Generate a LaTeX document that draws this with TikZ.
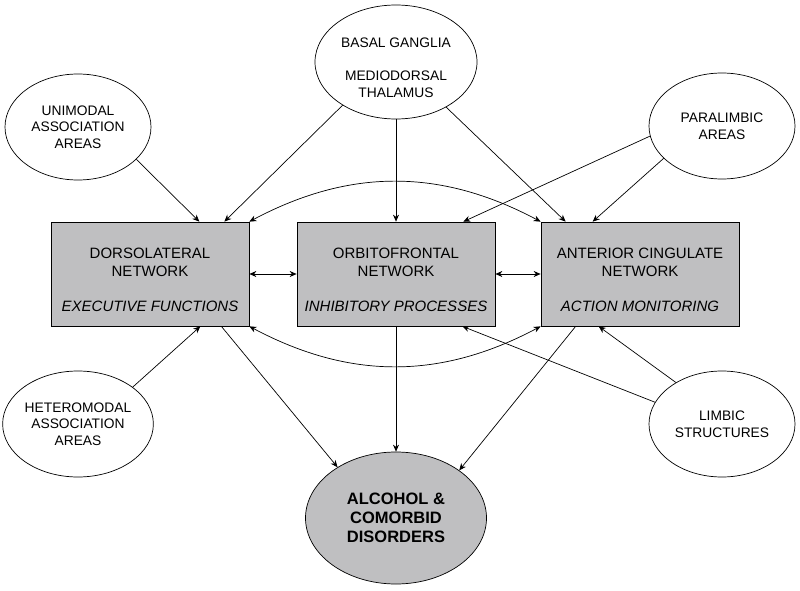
\documentclass[tikz,border=0pt]{standalone}
\usepackage{fontspec}
\setmainfont{Liberation Sans}
\usetikzlibrary{shapes.geometric,arrows.meta}
\definecolor{netgray}{RGB}{191,191,193}

\begin{document}
\begin{tikzpicture}[x=1pt,y=-1pt,line width=0.7pt,>={Stealth[length=7pt,width=6pt]}]
      \tikzstyle{network}=[draw,fill=netgray,rectangle,minimum width=198pt,minimum height=104pt,inner sep=0pt,align=center,font=\fontsize{15}{18}\selectfont]
      \tikzstyle{area}=[draw,fill=white,ellipse,inner sep=0pt,minimum width=146pt,minimum height=106pt,align=center,font=\fontsize{13.8}{16.5}\selectfont]
      \tikzstyle{outcome}=[draw,fill=netgray,ellipse,inner sep=0pt,minimum width=181pt,minimum height=132pt,align=center,font=\fontsize{16.5}{19}\selectfont\bfseries]
      \useasboundingbox (0,0) rectangle (800,591);
      \node[network] (N_DL) at (150,274) {\rule{0pt}{22pt}DORSOLATERAL\\NETWORK\\[17pt]\textit{EXECUTIVE FUNCTIONS}};
      \node[network] (N_OF) at (396,274) {\rule{0pt}{22pt}ORBITOFRONTAL\\NETWORK\\[17pt]\textit{INHIBITORY PROCESSES}};
      \node[network] (N_AC) at (640,274) {\rule{0pt}{22pt}ANTERIOR CINGULATE\\NETWORK\\[17pt]\textit{ACTION MONITORING}};
      \node[area, minimum width=162pt, minimum height=114pt] (A_BG) at (396,62) {\rule{0pt}{21pt}BASAL GANGLIA\\[17pt]MEDIODORSAL\\THALAMUS};
      \node[area] (A_UNI) at (78,127) {UNIMODAL\\ASSOCIATION\\AREAS};
      \node[area] (A_PAR) at (722,126) {PARALIMBIC\\AREAS};
      \node[area] (A_HET) at (78,424) {HETEROMODAL\\ASSOCIATION\\AREAS};
      \node[area] (A_LIM) at (722,424) {LIMBIC\\STRUCTURES};
      \node[outcome] (ALC) at (396,518) {ALCOHOL \&\\COMORBID\\DISORDERS};
      % inputs from above
      \draw[->] (A_UNI.-29) -- ([xshift=-50pt]N_DL.north east);
      \draw[->] (A_BG.219) -- ([xshift=-25pt]N_DL.north east);
      \draw[->] (A_BG) -- (N_OF);
      \draw[->] (A_BG.-42) -- ([xshift=25pt]N_AC.north west);
      \draw[->] (A_PAR.-172) -- ([xshift=-32pt]N_OF.north east);
      \draw[->] (A_PAR.-151) -- ([xshift=52pt]N_AC.north west);
      % links between the networks
      \draw[<->] (N_DL.north east) to[bend left=28] (N_AC.north west);
      \draw[<->] (N_DL.south east) to[bend right=28] (N_AC.south west);
      \draw[<->] (N_DL) -- (N_OF);
      \draw[<->] (N_OF) -- (N_AC);
      % inputs from below
      \draw[->] (A_HET.34) -- ([xshift=-49pt]N_DL.south east);
      \draw[->] (A_LIM.162) -- ([xshift=-33pt]N_OF.south east);
      \draw[->] (A_LIM.138) -- ([xshift=58pt]N_AC.south west);
      % outputs
      \draw[->] ([xshift=-28pt]N_DL.south east) -- (ALC.139);
      \draw[->] (N_OF) -- (ALC);
      \draw[->] ([xshift=35pt]N_AC.south west) -- (ALC.37);
    \end{tikzpicture}
\end{document}
